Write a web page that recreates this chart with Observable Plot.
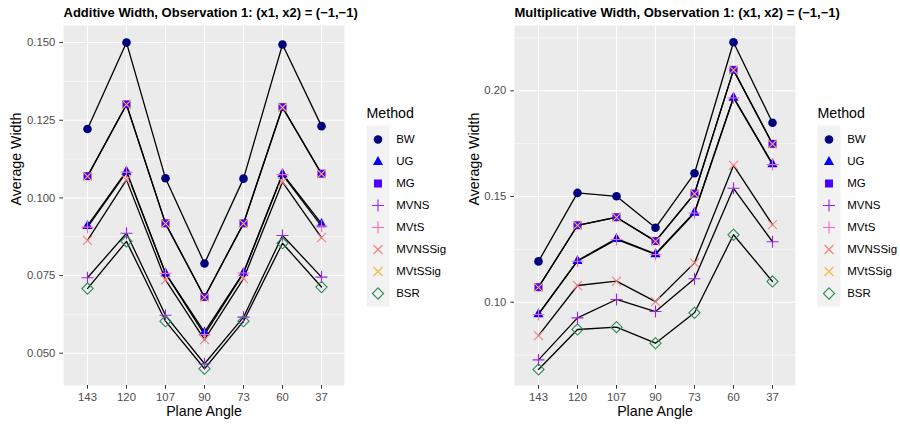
<!DOCTYPE html>
<html>
<head>
<meta charset="utf-8">
<script src="https://cdn.jsdelivr.net/npm/d3@7"></script>
<script src="https://cdn.jsdelivr.net/npm/@observablehq/plot@0.6"></script>
<style>
  html, body { margin: 0; padding: 0; background: #ffffff; }
  #wrap { position: relative; width: 900px; height: 427px; overflow: hidden; font-family: "Liberation Sans", Arial, sans-serif; }
  #wrap > div { position: absolute; }
  svg { overflow: visible; }
</style>
</head>
<body>
<div id="wrap">
  <div id="leftPanel" style="left:0px;top:0px;"></div>
  <div id="leftLegend" style="left:366px;top:100px;"></div>
  <div id="rightPanel" style="left:450px;top:0px;"></div>
  <div id="rightLegend" style="left:817px;top:100px;"></div>
</div>
<script>
// ---------- data ----------
const angles = ["143", "120", "107", "90", "73", "60", "37"];
const methods = ["BW", "UG", "MG", "MVNS", "MVtS", "MVNSSig", "MVtSSig", "BSR"];

// Additive width (left panel)
const addBW      = [0.1222, 0.1500, 0.1063, 0.0789, 0.1062, 0.1494, 0.1231];
const addUG      = [0.0911, 0.1086, 0.0758, 0.0568, 0.0760, 0.1078, 0.0917];
const addMG      = [0.1070, 0.1301, 0.0918, 0.0681, 0.0918, 0.1292, 0.1078];
const addMVNS    = [0.0743, 0.0886, 0.0622, 0.0466, 0.0616, 0.0879, 0.0745];
const addMVtS    = [0.0906, 0.1083, 0.0757, 0.0560, 0.0758, 0.1075, 0.0909];
const addMVNSSig = [0.0863, 0.1058, 0.0736, 0.0544, 0.0740, 0.1051, 0.0872];
const addMVtSSig = [0.1069, 0.1300, 0.0917, 0.0680, 0.0917, 0.1291, 0.1077];
const addBSR     = [0.0708, 0.0860, 0.0603, 0.0450, 0.0603, 0.0854, 0.0713];

// Multiplicative width (right panel)
const mulBW      = [0.1193, 0.1517, 0.1501, 0.1352, 0.1610, 0.2230, 0.1849];
const mulUG      = [0.0945, 0.1197, 0.1301, 0.1229, 0.1426, 0.1970, 0.1655];
const mulMG      = [0.1071, 0.1364, 0.1402, 0.1289, 0.1514, 0.2099, 0.1749];
const mulMVNS    = [0.0727, 0.0926, 0.1013, 0.0956, 0.1111, 0.1539, 0.1286];
const mulMVtS    = [0.0942, 0.1194, 0.1297, 0.1226, 0.1422, 0.1966, 0.1651];
const mulMVNSSig = [0.0842, 0.1079, 0.1100, 0.1003, 0.1186, 0.1647, 0.1367];
const mulMVtSSig = [0.1070, 0.1363, 0.1401, 0.1288, 0.1513, 0.2098, 0.1748];
const mulBSR     = [0.0682, 0.0871, 0.0882, 0.0806, 0.0950, 0.1319, 0.1098];

const leftTitle = "Additive Width, Observation 1: (x1, x2) = (\u22121,\u22121)";
const rightTitle = "Multiplicative Width, Observation 1: (x1, x2) = (\u22121,\u22121)";
const leftTicks = [0.050, 0.075, 0.100, 0.125, 0.150];
const leftMinor = [0.0625, 0.0875, 0.1125, 0.1375];
const rightTicks = [0.10, 0.15, 0.20];
const rightMinor = [0.075, 0.125, 0.175, 0.225];

// ---------- symbols (half-extent = r) ----------
const hr = s => Math.sqrt(s / Math.PI);
const symCircle = {draw(c, s) { const h = hr(s); c.moveTo(h, 0); c.arc(0, 0, h, 0, 2 * Math.PI); }};
const symTriangle = {draw(c, s) { const h = hr(s); c.moveTo(0, -h * 1.0); c.lineTo(h * 0.9, h * 0.62); c.lineTo(-h * 0.9, h * 0.62); c.closePath(); }};
const symSquare = {draw(c, s) { const h = hr(s); c.rect(-h, -h, 2 * h, 2 * h); }};
const symPlus = {draw(c, s) { const h = hr(s); c.moveTo(-h, 0); c.lineTo(h, 0); c.moveTo(0, -h); c.lineTo(0, h); }};
const symTimes = {draw(c, s) { const h = hr(s); c.moveTo(-h, -h); c.lineTo(h, h); c.moveTo(-h, h); c.lineTo(h, -h); }};
const symDiamond = {draw(c, s) { const h = hr(s); c.moveTo(0, -h); c.lineTo(h, 0); c.lineTo(0, h); c.lineTo(-h, 0); c.closePath(); }};

const styles = {
  BW:      {symbol: symCircle,   r: 4.3, fill: "#000080", stroke: "none"},
  UG:      {symbol: symTriangle, r: 5.6, fill: "#0000FF", stroke: "none"},
  MG:      {symbol: symSquare,   r: 4.0, fill: "#4A00FF", stroke: "none"},
  MVNS:    {symbol: symPlus,     r: 6.0, fill: "none", stroke: "#A020F0", strokeWidth: 1.1},
  MVtS:    {symbol: symPlus,     r: 6.0, fill: "none", stroke: "#FF69B4", strokeWidth: 1.1},
  MVNSSig: {symbol: symTimes,    r: 4.5, fill: "none", stroke: "#F88080", strokeWidth: 1.1},
  MVtSSig: {symbol: symTimes,    r: 4.5, fill: "none", stroke: "#FFB040", strokeWidth: 1.1},
  BSR:     {symbol: symDiamond,  r: 5.6, fill: "none", stroke: "#2E8B57", strokeWidth: 1.1}
};

function buildTable(series) {
  const rows = [];
  methods.forEach((m, mi) => series[mi].forEach((v, i) => rows.push({method: m, angle: angles[i], value: v})));
  return rows;
}
const leftTable = buildTable([addBW, addUG, addMG, addMVNS, addMVtS, addMVNSSig, addMVtSSig, addBSR]);
const rightTable = buildTable([mulBW, mulUG, mulMG, mulMVNS, mulMVtS, mulMVNSSig, mulMVtSSig, mulBSR]);

const font = "'Liberation Sans', Arial, sans-serif";

function panel({table, title, ticks, minor, domain, fmt, marginLeft, ylabDx}) {
  const dots = methods.map(m => Plot.dot(table.filter(d => d.method === m), {
    x: "angle", y: "value", ...styles[m]
  }));
  return Plot.plot({
    width: 350, height: 427,
    marginLeft, marginRight: 350 - marginLeft - 281, marginTop: 25, marginBottom: 42,
    style: {fontFamily: font, background: "transparent", overflow: "visible"},
    x: {type: "point", domain: angles, padding: 0.6, axis: null},
    y: {domain, axis: null},
    marks: [
      Plot.frame({fill: "#EBEBEB", stroke: "none"}),
      Plot.gridY({ticks: minor, stroke: "white", strokeOpacity: 1, strokeWidth: 0.55}),
      Plot.gridY({ticks, stroke: "white", strokeOpacity: 1, strokeWidth: 1.07}),
      Plot.gridX({stroke: "white", strokeOpacity: 1, strokeWidth: 1.07}),
      Plot.axisY({ticks, tickFormat: fmt, tickSize: 3.7, tickPadding: 4.5, stroke: "#333333", fill: "#4D4D4D", fontSize: 11.3, label: null}),
      Plot.axisX({tickSize: 3.7, tickPadding: 3.5, stroke: "#333333", fill: "#4D4D4D", fontSize: 11.3, label: null}),
      Plot.line(table, {x: "angle", y: "value", z: "method", stroke: "black", strokeWidth: 1.3}),
      ...dots,
      Plot.text([title], {frameAnchor: "top-left", dy: -9, lineAnchor: "bottom", textAnchor: "start", fontSize: 13, fontWeight: "bold", fill: "black"}),
      Plot.text(["Plane Angle"], {frameAnchor: "bottom", dy: 30, lineAnchor: "bottom", fontSize: 14.2, fill: "black"}),
      Plot.text(["Average Width"], {frameAnchor: "left", dx: ylabDx, rotate: -90, lineAnchor: "middle", fontSize: 14.2, fill: "black"})
    ]
  });
}

function legend() {
  const marks = [Plot.frame({fill: "#F2F2F2", stroke: "none"})];
  methods.forEach(m => marks.push(Plot.dot([m], {y: d => d, frameAnchor: "middle", ...styles[m]})));
  marks.push(Plot.text(methods, {y: d => d, frameAnchor: "right", dx: 6.7, textAnchor: "start", lineAnchor: "middle", fontSize: 11.5, fill: "black"}));
  marks.push(Plot.text(["Method"], {frameAnchor: "top-left", dy: -8, lineAnchor: "bottom", textAnchor: "start", fontSize: 14.2, fill: "black"}));
  return Plot.plot({
    width: 83, height: 206,
    marginLeft: 0, marginRight: 60, marginTop: 25, marginBottom: 0,
    style: {fontFamily: font, background: "transparent", overflow: "visible"},
    x: {axis: null},
    y: {type: "point", domain: methods, padding: 0.5, axis: null},
    marks
  });
}

document.getElementById("leftPanel").append(panel({
  table: leftTable, title: leftTitle, ticks: leftTicks, minor: leftMinor,
  domain: [0.0396, 0.1555], fmt: d3.format(".3f"), marginLeft: 63, ylabDx: -47
}));
document.getElementById("rightPanel").append(panel({
  table: rightTable, title: rightTitle, ticks: rightTicks, minor: rightMinor,
  domain: [0.0606, 0.2309], fmt: d3.format(".2f"), marginLeft: 64, ylabDx: -40
}));
document.getElementById("leftLegend").append(legend());
document.getElementById("rightLegend").append(legend());
</script>
</body>
</html>
